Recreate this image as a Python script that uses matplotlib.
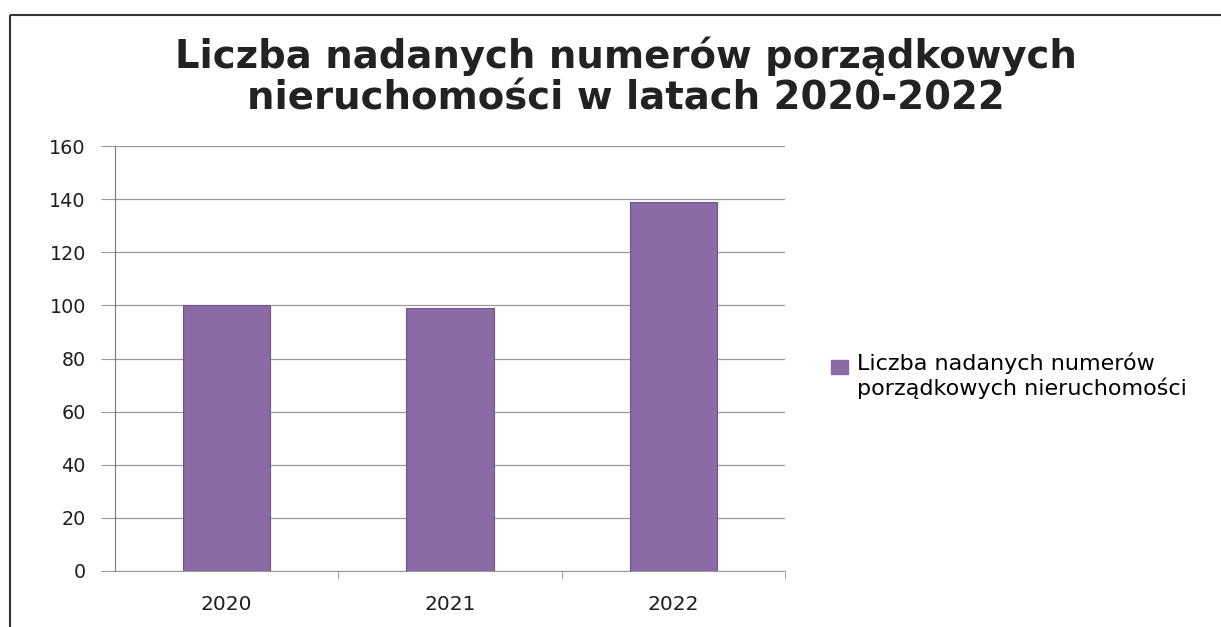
import matplotlib
matplotlib.use("Agg")
import matplotlib.pyplot as plt
from matplotlib.patches import Rectangle

years = ["2020", "2021", "2022"]
counts = [100, 99, 139]
y_ticks = [0, 20, 40, 60, 80, 100, 120, 140, 160]
title = "Liczba nadanych numerów porządkowych\nnieruchomości w latach 2020-2022"
series_name = "Liczba nadanych numerów\nporządkowych nieruchomości"

BAR = "#8A6BA5"
GRID = "#9a9a9a"
TEXT = "#1e1e1e"
FONT = ["DejaVu Sans"]

W, H = 1221, 627
fig = plt.figure(figsize=(W / 100, H / 100), dpi=100, facecolor="white")

# outer chart frame (cut off at right and bottom in the scan)
fig.add_artist(Rectangle((10 / W, 1 - 15 / H), 1.2, -1.2, transform=fig.transFigure,
                         fill=False, edgecolor="#333333", linewidth=1.5))

ax = fig.add_axes([115 / W, 1 - 571 / H, (785 - 115) / W, (571 - 146) / H])
xs = list(range(len(years)))
ax.bar(xs, counts, width=0.39, color=BAR, edgecolor="#6f5589", linewidth=0.8, zorder=2)

ax.set_xlim(-0.5, len(years) - 0.5)
ax.set_ylim(0, 160)
ax.set_yticks(y_ticks)
ax.set_yticklabels([str(v) for v in y_ticks], fontsize=13.8, color=TEXT, family=FONT)
ax.set_xticks(xs)
ax.set_xticklabels(years, fontsize=14.5, color=TEXT, family=FONT)
ax.tick_params(axis="x", length=0, pad=17)
ax.tick_params(axis="y", length=10, color=GRID, pad=11)
ax.set_xticks([x + 0.5 for x in xs], minor=True)
ax.tick_params(axis="x", which="minor", length=6, color=GRID)
ax.grid(True, axis="y", color=GRID, linewidth=0.9, zorder=0)
for side in ("top", "right"):
    ax.spines[side].set_visible(False)
ax.spines["left"].set_color("#7a7a7a")
ax.spines["bottom"].set_color(GRID)

fig.text(626 / W, 1 - 77 / H, title, ha="center", va="center", fontsize=27.8,
         fontweight="bold", color="#222222", family=FONT, linespacing=1.1)

leg = ax.legend([Rectangle((0, 0), 1, 1, color=BAR)], [series_name], loc="center left",
                bbox_to_anchor=(811 / W, 1 - 376 / H), bbox_transform=fig.transFigure,
                frameon=False, prop={"family": FONT, "size": 16}, handlelength=0.77,
                handleheight=0.54, handletextpad=0.4)
# put the swatch next to the first line of the label
swatch = leg.legend_handles[0]
swatch.set_y(swatch.get_y() + 6.5)

fig.savefig("out.png", dpi=100, facecolor="white")
